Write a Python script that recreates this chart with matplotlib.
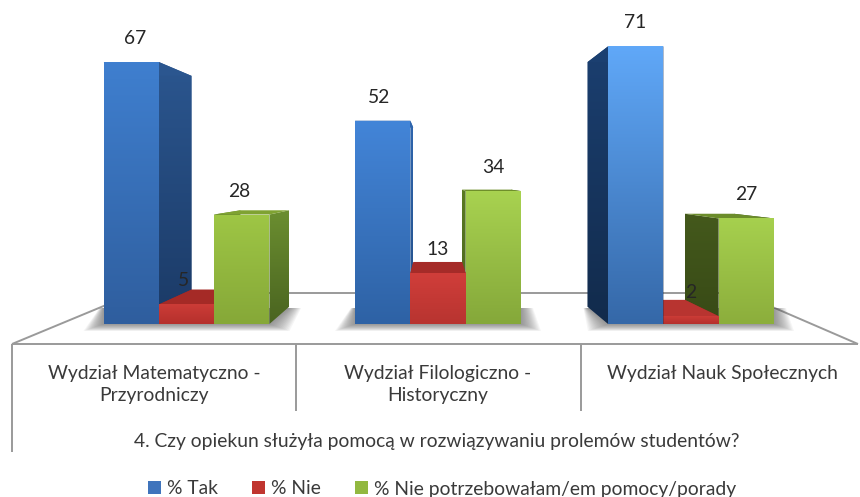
import numpy as np
import matplotlib
matplotlib.use("Agg")
import matplotlib.pyplot as plt
from matplotlib.colors import LinearSegmentedColormap
from matplotlib.patches import Patch, Polygon

# ---------- data ----------
categories = ["Wydział Matematyczno -\nPrzyrodniczy",
              "Wydział Filologiczno -\nHistoryczny",
              "Wydział Nauk Społecznych"]
series_names = ["% Tak", "% Nie", "% Nie potrzebowałam/em pomocy/porady"]
tak = [67, 52, 71]
nie = [5, 13, 2]
nie_potrzeb = [28, 34, 27]
axis_title = "4. Czy opiekun służyła pomocą w rozwiązywaniu prolemów studentów?"

# ---------- layout (pixels of the 860x497 figure) ----------
W, H = 860, 497
BASE_PX = 324.0
UNIT_PX = 3.91
VP_X, VP_Y = 435.0, 179.0
DEPTH = 0.881
GROUP_X = [186.5, 438.0, 691.0]
BAR_W = 55.3
TEXT = "#3a3a3a"
LINE = "#9a9a9a"
FONT = "Lato"
FS = 13.9
plt.rcParams["font.family"] = [FONT, "DejaVu Sans"]

# (front top, front bottom, side top, side bottom, top face)
STYLE = {
    0: [("#3F7FCF", "#2F5E9E", "#2B568F", "#1B3A66", "#2B568F"),
        ("#4385D8", "#2E62A5", "#2F66AE", "#234E86", "#2F66AE"),
        ("#60A8F8", "#3568A8", "#1B3F70", "#122B4C", "#1B3F70")],
    1: [("#CC3C37", "#B5302C", "#9E2825", "#8A2220", "#A52A26"),
        ("#D03E3A", "#B83430", "#A02A27", "#8A2220", "#A52B28"),
        ("#CC3C37", "#B5302C", "#9E2825", "#8A2220", "#B83430")],
    2: [("#9EC645", "#86A838", "#6B8E30", "#4A6420", "#7FA232"),
        ("#A8D250", "#85A83A", "#5A7A22", "#4A6420", "#6F8F2A"),
        ("#A6D04E", "#8CAE3C", "#44591C", "#384A16", "#6B8C2A")],
}
LABEL_DX = {0: (4, -3, -3), 1: (-4, 0, 0), 2: (-1, 0, 0)}
LABEL_DY = 23.5

fig = plt.figure(figsize=(W / 100, H / 100), dpi=100, facecolor="white")
ax = fig.add_axes([0, 0, 1, 1])
ax.set_xlim(0, W)
ax.set_ylim((BASE_PX - H) / UNIT_PX, BASE_PX / UNIT_PX)   # y axis is in percent
ax.axis("off")
ax.set_autoscale_on(False)


def py(px):
    return (BASE_PX - px) / UNIT_PX


def back(x, val):
    """Project a front point (x, value) on to the back plane of the bar."""
    vy = py(VP_Y)
    return VP_X + (x - VP_X) * DEPTH, vy + (val - vy) * DEPTH


def gradient_face(pts, c_top, c_bot, z):
    pts = np.asarray(pts)
    cmap = LinearSegmentedColormap.from_list("f", [c_top, c_bot])
    im = ax.imshow(np.linspace(0, 1, 128)[:, None], cmap=cmap, aspect="auto",
                   extent=(pts[:, 0].min(), pts[:, 0].max(), pts[:, 1].min(), pts[:, 1].max()),
                   origin="upper", zorder=z, interpolation="bilinear")
    clip = Polygon(pts, closed=True, transform=ax.transData, fc="none", ec="none")
    ax.add_patch(clip)
    im.set_clip_path(clip)


# ---------- floor and axis frame ----------
floor_lines = [([12, 135], [344, 293]), ([135, 740], [293, 293]), ([740, 858], [293, 344]),
               ([12, 858], [344, 344]), ([12, 12], [344, 452]),
               ([296, 296], [344, 411]), ([580.5, 580.5], [344, 411])]
for xs, ys in floor_lines:
    ax.plot(xs, [py(v) for v in ys], color=LINE, lw=1.4, zorder=1, solid_capstyle="butt")

# ---------- soft shadows under each group ----------
for gx in GROUP_X:
    left, right = gx - 1.5 * BAR_W, gx + 1.5 * BAR_W
    for k in range(14):
        g = 1 - k / 14
        pad = 20 * g
        bl = back(left, 0)
        br = back(right, 0)
        shadow = [(left - pad, py(BASE_PX + 7 * g)), (right + pad, py(BASE_PX + 7 * g)),
                  (max(br[0], right) + pad * 0.6, py(308)), (min(bl[0], left) - pad * 0.2, py(308))]
        ax.add_patch(Polygon(shadow, closed=True, fc="#505050", ec="none", alpha=0.055, zorder=2))

# ---------- 3-D bars ----------
all_series = [tak, nie, nie_potrzeb]
z = 3
for g, gx in enumerate(GROUP_X):
    bars = [(s, gx + (s - 1) * BAR_W) for s in range(3)]
    bars.sort(key=lambda b: -abs(b[1] - VP_X))          # painter's order
    for s, cx in bars:
        val = all_series[s][g]
        x0, x1 = cx - BAR_W / 2, cx + BAR_W / 2
        ft, fb, st, sb, tf = STYLE[s][g]
        b00, b10 = back(x0, 0), back(x1, 0)
        b0v, b1v = back(x0, val), back(x1, val)
        gradient_face([(x0, 0), (x0, val), b0v, b00], st, sb, z)
        gradient_face([(x1, 0), (x1, val), b1v, b10], st, sb, z + 0.1)
        ax.add_patch(Polygon([(x0, val), (x1, val), b1v, b0v], closed=True, fc=tf, ec="none", zorder=z + 0.2))
        gradient_face([(x0, 0), (x1, 0), (x1, val), (x0, val)], ft, fb, z + 0.3)
        z += 1

# ---------- value labels ----------
for g, gx in enumerate(GROUP_X):
    for s in range(3):
        val = all_series[s][g]
        ax.text(gx + (s - 1) * BAR_W + LABEL_DX[g][s], val + LABEL_DY / UNIT_PX, str(val),
                ha="center", va="center", fontsize=FS, color="#262626", zorder=100)

# ---------- category labels, axis title, legend ----------
for x, label in zip([154, 438, 722], categories):
    ax.text(x, py(365), label, ha="center", va="top", fontsize=FS, color=TEXT,
            linespacing=1.38, zorder=100)
ax.text(437, py(442), axis_title, ha="center", va="center", fontsize=FS, color=TEXT, zorder=100)

legend_colors = ["#3F74BC", "#C0352F", "#92B840"]
handles = [Patch(fc=c, ec="none", label=n) for c, n in zip(legend_colors, series_names)]
ax.legend(handles=handles, ncols=3, loc="center", bbox_to_anchor=(442 / W, 1 - 489 / H),
          bbox_transform=fig.transFigure, frameon=False, fontsize=FS, labelcolor=TEXT,
          handlelength=0.67, handleheight=0.67, handletextpad=0.31, columnspacing=1.75,
          borderpad=0, borderaxespad=0)

fig.savefig("out.png", dpi=100, facecolor="white")
